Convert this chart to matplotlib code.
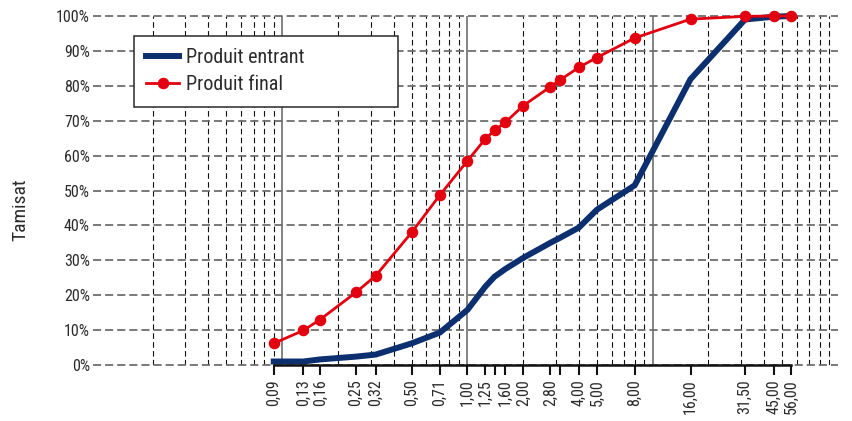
import matplotlib
matplotlib.use("Agg")
import matplotlib.pyplot as plt
from matplotlib import font_manager
from matplotlib.ticker import FixedLocator, FixedFormatter, NullLocator

# Sieve openings (mm) and cumulative passing (%)
sieves = [0.09, 0.13, 0.16, 0.25, 0.32, 0.50, 0.71, 1.00, 1.25, 1.40, 1.60,
          2.00, 2.80, 3.15, 4.00, 5.00, 8.00, 16.00, 31.50, 45.00, 56.00]
sieve_labels = ["0,09", "0,13", "0,16", "0,25", "0,32", "0,50", "0,71", "1,00",
                "1,25", "", "1,60", "2,00", "2,80", "", "4,00", "5,00", "8,00",
                "16,00", "31,50", "45,00", "56,00"]
produit_entrant = [1.0, 1.0, 1.6, 2.4, 3.0, 6.2, 9.3, 15.8, 22.5, 25.3, 27.5,
                   30.7, 35.0, 36.4, 39.4, 44.5, 51.5, 81.9, 99.0, 99.8, 100.0]
produit_final = [6.2, 9.9, 13.0, 20.8, 25.6, 38.0, 48.7, 58.5, 64.8, 67.2, 69.5,
                 74.3, 79.7, 81.6, 85.3, 88.1, 93.7, 99.1, 99.9, 100.0, 100.0]
y_ticks = [0, 10, 20, 30, 40, 50, 60, 70, 80, 90, 100]
y_labels = [f"{v}%" for v in y_ticks]

# Prefer a condensed sans face when one is installed
installed = {f.name for f in font_manager.fontManager.ttflist}
family = "DejaVu Sans"
for cand in ["Roboto Condensed", "Liberation Sans Narrow", "Open Sans Condensed",
             "Noto Sans Condensed", "DejaVu Sans Condensed"]:
    if cand in installed:
        family = cand
        break
plt.rcParams["font.family"] = [family, "DejaVu Sans"]
stretch = "condensed"

BLUE = "#0c2f6f"
RED = "#e3000f"
TXT = "#2b2b2b"

fig = plt.figure(figsize=(8.52, 4.21), dpi=100)
ax = fig.add_axes([0.1138, 0.133, 0.8697, 0.829])
ax.set_xscale("log")
ax.set_xlim(0.01, 100)
ax.set_ylim(0, 100)

# Log grid: solid lines on decades, dashed on intermediate values
for dec in [0.01, 0.1, 1, 10]:
    for k in range(2, 10):
        ax.axvline(dec * k, color="#111111", lw=0.8, ls=(0, (5, 3)), zorder=1)
for dec in [0.1, 1, 10]:
    ax.axvline(dec, color="#7a7a7a", lw=1.3, zorder=1)
for v in y_ticks:
    ax.axhline(v, color="#6e6e6e", lw=1.3, ls=(0, (4.5, 2.2)), zorder=1,
               xmin=-0.005, clip_on=False)

ax.plot(sieves, produit_entrant, color=BLUE, lw=4.3, solid_joinstyle="miter",
        label="Produit entrant", zorder=3, clip_on=False)
ax.plot(sieves, produit_final, color=RED, lw=2.0, marker="o", markersize=7.3,
        markeredgecolor=RED, label="Produit final", zorder=4, clip_on=False)

for s in ["top", "right", "left"]:
    ax.spines[s].set_visible(False)
ax.spines["bottom"].set_bounds(sieves[0], sieves[-1])
ax.spines["bottom"].set_linewidth(1.8)
ax.spines["bottom"].set_color("#111111")
ax.spines["bottom"].set_zorder(5)

ax.xaxis.set_major_locator(FixedLocator(sieves))
ax.xaxis.set_major_formatter(FixedFormatter(sieve_labels))
ax.xaxis.set_minor_locator(NullLocator())
ax.tick_params(axis="x", which="major", length=7, width=1.5, color="#111111",
               labelrotation=90, labelsize=11.5, labelcolor=TXT, pad=3)
for t in ax.get_xticklabels():
    t.set_fontstretch(stretch)

ax.set_yticks(y_ticks)
ax.set_yticklabels(y_labels)
ax.tick_params(axis="y", length=0, labelsize=11.5, labelcolor=TXT, pad=5)
for t in ax.get_yticklabels():
    t.set_fontstretch(stretch)

ax.set_ylabel("Tamisat", fontsize=14, color=TXT, fontstretch=stretch)
ax.yaxis.set_label_coords(-0.091, 0.444)

leg = ax.legend(loc="upper left", bbox_to_anchor=(0.05, 0.733, 0.356, 0.21),
                mode="expand", borderaxespad=0, fancybox=False, framealpha=1,
                edgecolor="#2a2a2a", handlelength=1.6, handletextpad=0.35,
                borderpad=0.62, labelspacing=0.4,
                prop={"size": 14.5, "stretch": stretch})
leg.get_frame().set_linewidth(1.1)
for t in leg.get_texts():
    t.set_color(TXT)

fig.savefig("out.png", dpi=100)
